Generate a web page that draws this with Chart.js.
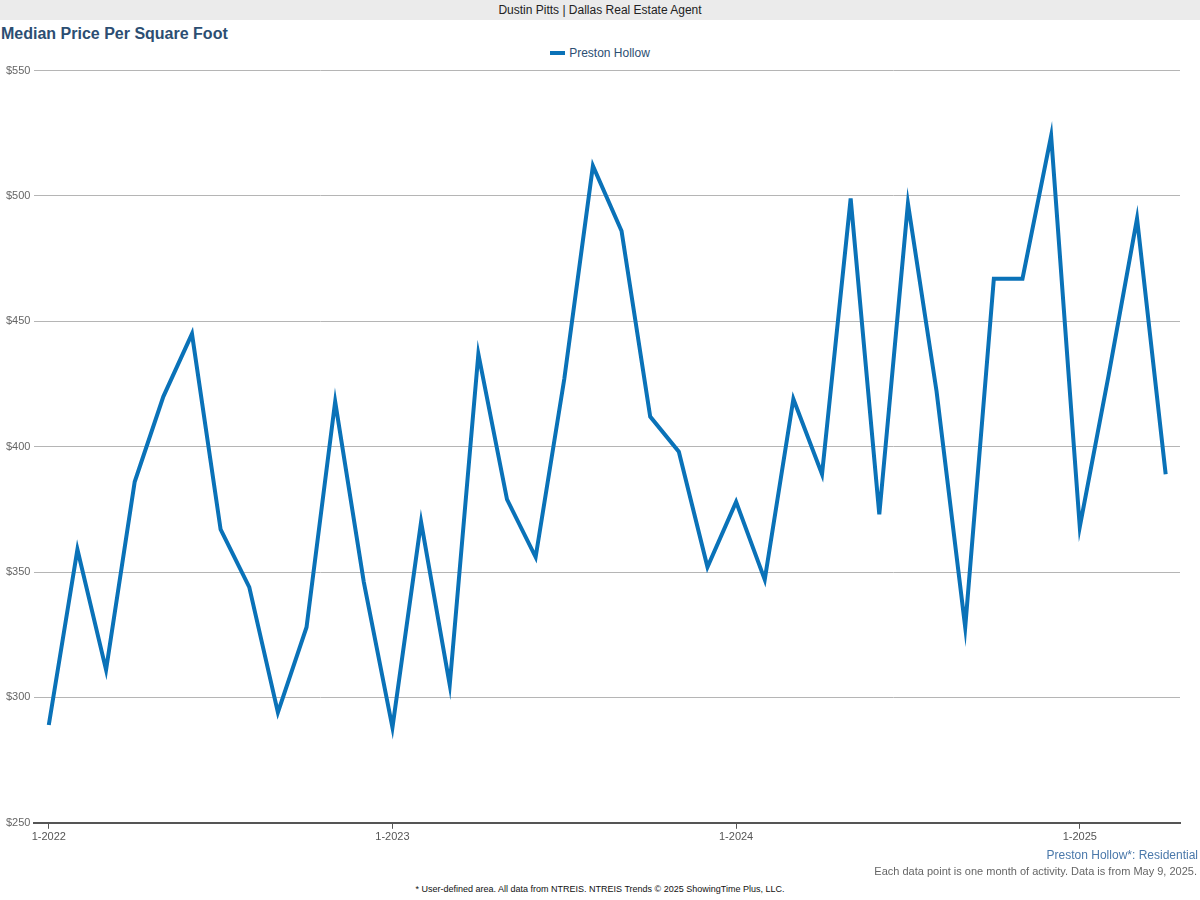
<!DOCTYPE html>
<html>
<head>
<meta charset="utf-8">
<script src="https://cdn.jsdelivr.net/npm/chart.js@4.4.1/dist/chart.umd.min.js"></script>
<style>
  body { margin: 0; width: 1200px; height: 900px; position: relative; font-family: Arial, "Liberation Sans", sans-serif; background: #fff; overflow: hidden; }
  .banner { position: absolute; top: 0; left: 0; width: 1200px; height: 20px; background: #ebebeb; font-size: 12px; line-height: 21px; text-align: center; color: #222; }
  .title { position: absolute; top: 25px; left: 1px; font-size: 16px; font-weight: bold; color: #2c4e72; }
  .legend { position: absolute; top: 46px; left: 0; width: 1200px; text-align: center; font-size: 12px; color: #2c4e72; }
  .legend span.sw { display: inline-block; width: 15px; height: 4px; background: #0a72b8; vertical-align: middle; margin-right: 4px; position: relative; top: -1px; }
  .wrap { position: absolute; top: 60px; left: 0; width: 1200px; height: 800px; }
  .foot { position: absolute; right: 2px; font-size: 12px; }
  .f1 { top: 848px; color: #4a78aa; }
  .f2 { top: 865px; color: #666; font-size: 11px; right: 3px; }
  .f3 { position: absolute; top: 884px; left: 0; width: 1200px; text-align: center; font-size: 9px; color: #111; }
</style>
</head>
<body>
<div class="banner">Dustin Pitts | Dallas Real Estate Agent</div>
<div class="title">Median Price Per Square Foot</div>
<div class="legend"><span class="sw"></span>Preston Hollow</div>
<div class="wrap"><canvas id="chart"></canvas></div>
<div class="foot f1">Preston Hollow*: Residential</div>
<div class="foot f2">Each data point is one month of activity. Data is from May 9, 2025.</div>
<div class="f3">* User-defined area. All data from NTREIS. NTREIS Trends © 2025 ShowingTime Plus, LLC.</div>
<script>
// Jan 2022 .. Apr 2025, one value per month
const prices = [289, 359, 311, 386, 420, 445, 367, 344, 294, 328, 418, 346,
                288, 370, 305, 437, 379, 356, 427, 512, 486, 412, 398, 352,
                378, 347, 419, 389, 499, 373, 497, 422, 328, 467, 467, 524,
                368, 428, 491, 389];
const tickMonths = [0, 12, 24, 36];
const tickLabels = ['1-2022', '1-2023', '1-2024', '1-2025'];
const yTicks = [250, 300, 350, 400, 450, 500, 550];

new Chart(document.getElementById('chart'), {
  type: 'line',
  data: {
    datasets: [{
      label: 'Preston Hollow',
      data: prices.map((v, i) => ({ x: i, y: v })),
      borderColor: '#0a72b8',
      borderWidth: 4,
      pointRadius: 0,
      tension: 0,
      fill: false,
    }],
  },
  options: {
    responsive: true,
    maintainAspectRatio: false,
    animation: false,
    layout: { padding: { top: 7, right: 20, bottom: 14, left: 2 } },
    plugins: { legend: { display: false }, tooltip: { enabled: false } },
    scales: {
      x: {
        type: 'linear', min: -0.5, max: 39.5,
        afterBuildTicks: ax => { ax.ticks = tickMonths.map(v => ({ value: v })); },
        ticks: { callback: v => tickLabels[tickMonths.indexOf(v)], color: '#555', font: { size: 11 }, maxRotation: 0, padding: 2 },
        grid: { display: true, drawOnChartArea: false, drawTicks: true, tickLength: 6, color: '#555' },
        border: { color: '#555', width: 2 },
      },
      y: {
        min: 250, max: 550,
        afterBuildTicks: ax => { ax.ticks = yTicks.map(v => ({ value: v })); },
        ticks: { callback: v => '$' + v, color: '#666', font: { size: 11 }, padding: 4 },
        grid: { color: '#b5b5b5', drawTicks: false },
        border: { display: false },
      },
    },
  },
});
</script>
</body>
</html>
